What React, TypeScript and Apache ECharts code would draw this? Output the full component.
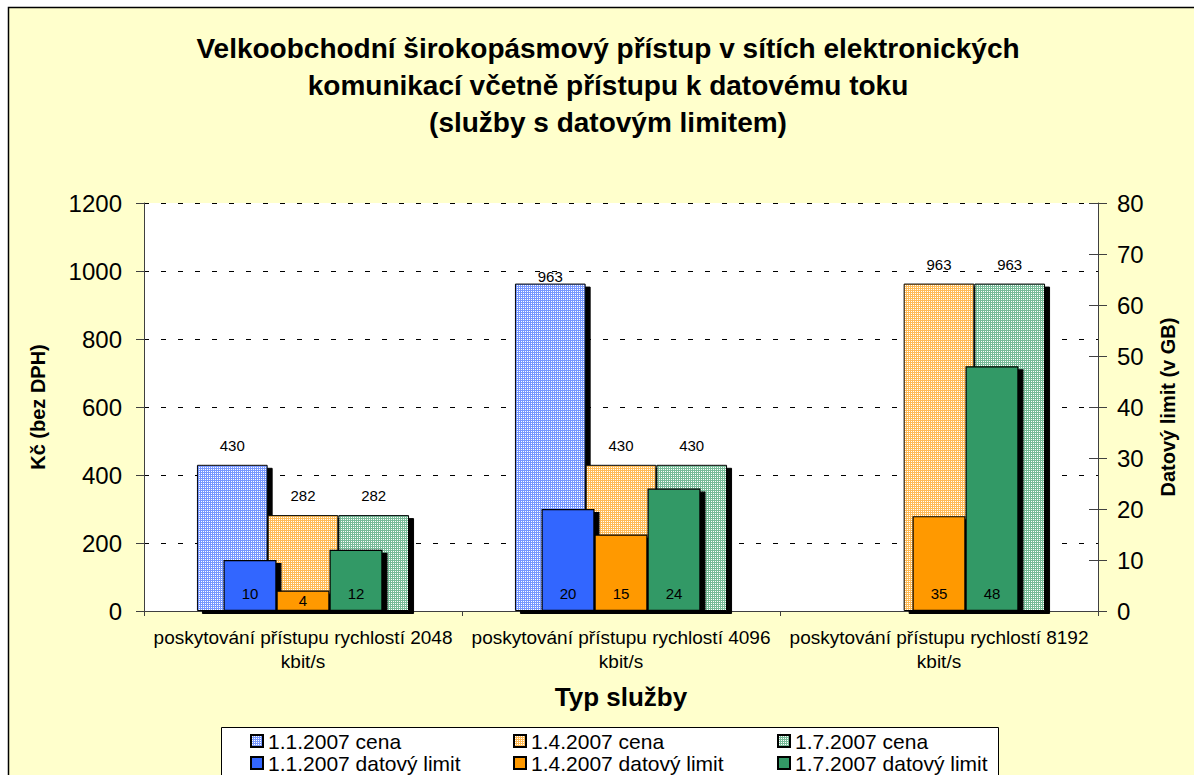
import React, { useEffect, useRef } from 'react';
import * as echarts from 'echarts';

// ---------- data ----------
const categories = [
  'poskytování přístupu rychlostí 2048 kbit/s',
  'poskytování přístupu rychlostí 4096 kbit/s',
  'poskytování přístupu rychlostí 8192 kbit/s',
];
const priceNames = ['1.1.2007 cena', '1.4.2007 cena', '1.7.2007 cena'];
const limitNames = ['1.1.2007 datový limit', '1.4.2007 datový limit', '1.7.2007 datový limit'];

const price0101 = [430, 963, null];
const price0104 = [282, 430, 963];
const price0107 = [282, 430, 963];

const limit0101 = [10, 20, null];
const limit0104 = [4, 15, 18.6];
const limit0107 = [12, 24, 48];
// data labels as printed in the reference
const limitLabel0101 = [10, 20, null];
const limitLabel0104 = [4, 15, 35];
const limitLabel0107 = [12, 24, 48];

const titleLines = [
  'Velkoobchodní širokopásmový přístup v sítích elektronických',
  'komunikací včetně přístupu k datovému toku',
  '(služby s datovým limitem)',
];

const FONT = 'Arial, "Liberation Sans", sans-serif';
const BLUE = '#3366FF';
const ORANGE = '#FF9900';
const GREEN = '#339966';
// lighter tints used for the dotted "cena" patterns
const BLUE_TINT = '#7798FF';
const ORANGE_TINT = '#FFBB56';
const GREEN_TINT = '#77BB98';

function makePattern(color: string) {
  const c = document.createElement('canvas');
  c.width = 2;
  c.height = 2;
  const ctx = c.getContext('2d')!;
  ctx.fillStyle = color;
  ctx.fillRect(0, 0, 2, 2);
  ctx.fillStyle = '#ffffff';
  ctx.fillRect(1, 1, 1, 1);
  return { image: c, repeat: 'repeat', imageWidth: 2, imageHeight: 2 } as any;
}

export default function App() {
  const ref = useRef<HTMLDivElement>(null);

  useEffect(() => {
    if (!ref.current) return;
    const chart = echarts.init(ref.current, undefined, { renderer: 'svg' });

    const shadow = {
      shadowColor: '#000',
      shadowBlur: 0,
      shadowOffsetX: 5,
      shadowOffsetY: 3,
    };

    const priceData = [price0101, price0104, price0107];
    const priceColors = [makePattern(BLUE_TINT), makePattern(ORANGE_TINT), makePattern(GREEN_TINT)];
    const limitData = [limit0101, limit0104, limit0107];
    const limitLabels = [limitLabel0101, limitLabel0104, limitLabel0107];
    const limitColors = [BLUE, ORANGE, GREEN];

    const priceSeries = priceData.map((arr, s) => ({
      name: priceNames[s],
      type: 'bar',
      xAxisIndex: 0,
      yAxisIndex: 0,
      barGap: '0%',
      barCategoryGap: '33.3%',
      silent: true,
      itemStyle: { color: priceColors[s], borderColor: '#000', borderWidth: 1, ...shadow },
      label: {
        show: true,
        position: 'top',
        distance: 12,
        color: '#000',
        fontFamily: FONT,
        fontSize: 15,
      },
      data: arr.map((v, i) =>
        s === 0 && i === 1 ? { value: v, label: { distance: 0 } } : v
      ),
    }));

    const limitSeries = limitData.map((arr, s) => ({
      name: limitNames[s],
      type: 'bar',
      xAxisIndex: 1,
      yAxisIndex: 1,
      barGap: '0%',
      barCategoryGap: '50%',
      silent: true,
      itemStyle: { color: limitColors[s], borderColor: '#000', borderWidth: 1.2, ...shadow },
      label: {
        show: true,
        position: 'insideBottom',
        distance: 10,
        color: '#000',
        fontFamily: FONT,
        fontSize: 15,
        formatter: (p: any) => String(limitLabels[s][p.dataIndex]),
      },
      data: arr.map((v) =>
        v != null && v < 6 ? { value: v, label: { position: 'inside' } } : v
      ),
    }));

    const axisLine = { show: true, lineStyle: { color: '#404040', width: 1 } };

    const legendCommon = {
      orient: 'vertical',
      top: 730,
      padding: 0,
      itemGap: 0,
      itemWidth: 12,
      itemHeight: 12,
      icon: 'rect',
      selectedMode: false,
      textStyle: { fontFamily: FONT, fontSize: 21, color: '#000', lineHeight: 22 },
    };

    chart.setOption({
      animation: false,
      backgroundColor: '#ffffff',
      textStyle: { fontFamily: FONT },
      title: {
        text: titleLines.join('\n'),
        left: 603,
        top: 25,
        textAlign: 'center',
        textStyle: {
          fontFamily: FONT,
          fontSize: 28,
          fontWeight: 'bold',
          color: '#000',
          lineHeight: 37,
        },
      },
      graphic: [
        {
          type: 'rect',
          z: -10,
          shape: { x: 8.5, y: 7.5, width: 1220, height: 800 },
          style: { fill: '#FFFFCC', stroke: '#000', lineWidth: 1.5 },
        },
        {
          type: 'rect',
          z: 1,
          shape: { x: 221.5, y: 727.5, width: 777, height: 100 },
          style: { fill: '#ffffff', stroke: '#000', lineWidth: 1 },
        },
      ],
      legend: [
        { ...legendCommon, left: 250, data: [priceNames[0], limitNames[0]] },
        { ...legendCommon, left: 513, data: [priceNames[1], limitNames[1]] },
        { ...legendCommon, left: 777, data: [priceNames[2], limitNames[2]] },
      ],
      grid: {
        left: 144,
        right: 96,
        top: 203,
        bottom: 164,
        show: true,
        backgroundColor: '#ffffff',
        borderWidth: 0,
      },
      xAxis: [
        {
          type: 'category',
          data: categories,
          name: 'Typ služby',
          nameLocation: 'middle',
          nameGap: 73,
          nameMoveOverlap: false,
          nameTextStyle: { fontFamily: FONT, fontSize: 26, fontWeight: 'bold', color: '#000' },
          axisLine,
          axisTick: { show: true, length: 5, lineStyle: { color: '#404040' } },
          axisLabel: {
            interval: 0,
            margin: 14,
            fontFamily: FONT,
            fontSize: 19,
            lineHeight: 24,
            color: '#000',
            formatter: (v: string) => v.replace(' kbit/s', '\nkbit/s'),
          },
          splitLine: { show: false },
        },
        {
          type: 'category',
          data: categories,
          show: false,
        },
      ],
      yAxis: [
        {
          type: 'value',
          position: 'left',
          min: 0,
          max: 1200,
          interval: 200,
          name: 'Kč (bez DPH)',
          nameLocation: 'middle',
          nameGap: 96,
          nameRotate: 90,
          nameMoveOverlap: false,
          nameTextStyle: { fontFamily: FONT, fontSize: 20, fontWeight: 'bold', color: '#000' },
          axisLine,
          axisTick: { show: true, length: 8, lineStyle: { color: '#404040' } },
          axisLabel: {
            margin: 22,
            fontFamily: FONT,
            fontSize: 24,
            color: '#000',
            formatter: (v: number) => String(v),
          },
          splitLine: { show: true, lineStyle: { color: '#000', type: [5, 12], width: 1 } },
        },
        {
          type: 'value',
          position: 'right',
          min: 0,
          max: 80,
          interval: 10,
          name: 'Datový limit (v GB)',
          nameLocation: 'middle',
          nameGap: 60,
          nameRotate: 90,
          nameMoveOverlap: false,
          nameTextStyle: { fontFamily: FONT, fontSize: 20, fontWeight: 'bold', color: '#000' },
          axisLine,
          axisTick: { show: true, length: 9, lineStyle: { color: '#404040' } },
          axisLabel: {
            margin: 19,
            fontFamily: FONT,
            fontSize: 24,
            color: '#000',
            formatter: (v: number) => String(v),
          },
          splitLine: { show: false },
        },
        {
          type: 'value',
          position: 'right',
          min: 0,
          max: 80,
          interval: 10,
          axisLine: { show: false },
          axisTick: { show: true, inside: true, length: 9, lineStyle: { color: '#404040' } },
          axisLabel: { show: false },
          splitLine: { show: false },
        },
      ],
      series: [...priceSeries, ...limitSeries],
    } as any);

    return () => chart.dispose();
  }, []);

  return (
    <div
      ref={ref}
      style={{ position: 'fixed', left: 0, top: 0, width: 1194, height: 775 }}
    />
  );
}
